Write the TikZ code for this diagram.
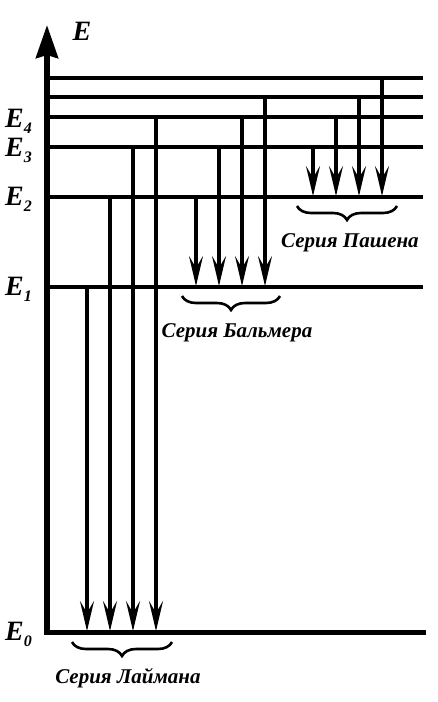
\documentclass[tikz,border=0pt]{standalone}
\usepackage{fontspec}
\setmainfont{Liberation Serif}
\usetikzlibrary{arrows.meta,calc,decorations.pathreplacing}
\tikzset{
  axisline/.style={line width=5.5pt,line cap=rect,-{Stealth[length=33pt,width=22pt,inset=3pt]}},
  levelline/.style={line width=3.3pt},
  groundline/.style={line width=5pt,line cap=rect},
  jump/.style={line width=3.3pt,-{Stealth[length=30pt,width=14pt,inset=12pt]}},
  seriesbrace/.style={line width=2.6pt,decorate,decoration={brace,amplitude=14pt}},
  levellabel/.style={font=\fontsize{28}{28}\selectfont\bfseries\itshape,anchor=base west,inner sep=0pt},
  serieslabel/.style={font=\fontsize{21}{21}\selectfont\bfseries\itshape,anchor=base,inner sep=0pt}
}
\newcommand{\En}[1]{E\raisebox{-6pt}{\fontsize{16}{16}\selectfont #1}}

\begin{document}
\begin{tikzpicture}[x=1pt,y=-1pt]
  \useasboundingbox (0,0) rectangle (437,702);
  % energy levels
  \foreach \n/\y in {0/632,1/287,2/197,3/147,4/117,5/97,6/78}{
    \coordinate (L\n) at (47,\y);
    \coordinate (R\n) at (423,\y);
  }
  \foreach \n in {1,...,6}
    \draw[levelline] (L\n) -- (R\n);
  \draw[groundline] (L0) -- (R0);
  \coordinate (Etop) at (47,25);
  \draw[axisline] (L0) -- (Etop);
  \node[levellabel,anchor=center] (Elab) at (82,31) {E};
  \node[levellabel] (E4) at (5,127) {\En{4}};
  \node[levellabel] (E3) at (5,156) {\En{3}};
  \node[levellabel] (E2) at (5,205) {\En{2}};
  \node[levellabel] (E1) at (5,295) {\En{1}};
  \node[levellabel] (E0) at (5,640) {\En{0}};
  % Lyman
  \foreach \x/\y [count=\i] in {87/287,110/197,133/147,156/117}{
    \coordinate (lya\i) at (\x,\y);
    \coordinate (lyb\i) at (\x,631);
    \draw[jump] (lya\i) -- (lyb\i);
  }
  % Balmer
  \foreach \x/\y [count=\i] in {196/197,219/147,242/117,265/97}{
    \coordinate (baa\i) at (\x,\y);
    \coordinate (bab\i) at (\x,286);
    \draw[jump] (baa\i) -- (bab\i);
  }
  % Paschen
  \foreach \x/\y [count=\i] in {313/147,336/117,359/97,382/78}{
    \coordinate (paa\i) at (\x,\y);
    \coordinate (pab\i) at (\x,196);
    \draw[jump] (paa\i) -- (pab\i);
  }
  % braces and names
  \coordinate (paR) at (397,206);
  \coordinate (paL) at (297,206);
  \draw[seriesbrace] (paR) -- (paL);
  \node[serieslabel] (paname) at (350,247) {Серия Пашена};
  \coordinate (baR) at (280,296);
  \coordinate (baL) at (182,296);
  \draw[seriesbrace] (baR) -- (baL);
  \node[serieslabel] (baname) at (237,337) {Серия Бальмера};
  \coordinate (lyR) at (172,642);
  \coordinate (lyL) at (72,642);
  \draw[seriesbrace] (lyR) -- (lyL);
  \node[serieslabel] (lyname) at (128,683) {Серия Лаймана};
\end{tikzpicture}
\end{document}
